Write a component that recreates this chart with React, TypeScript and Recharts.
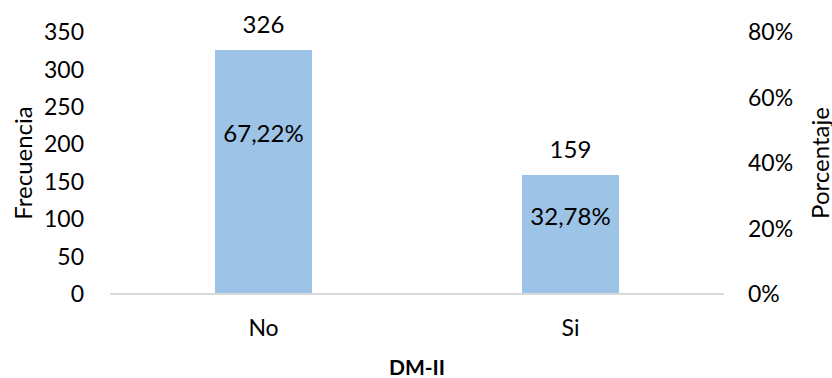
import { ComposedChart, Bar, Line, XAxis, YAxis, LabelList } from 'recharts'

const categorias = ['No', 'Si']
const frecuencias = [326, 159]
const porcentajes = [67.22, 32.78]
const ticksFrecuencia = [0, 50, 100, 150, 200, 250, 300, 350]
const ticksPorcentaje = [0, 20, 40, 60, 80]

const data = categorias.map((c, i) => ({
  name: c,
  frecuencia: frecuencias[i],
  pct: porcentajes[i],
}))

const FONT = 'Lato, "Open Sans", sans-serif'
const FS = 23
const LFS = 24
const tickStyle = { fill: '#000', fontSize: FS, fontFamily: FONT }

const pctLabel = (props: any) => {
  const { x, y, width, height, value } = props
  return (
    <text
      x={x + width / 2}
      y={y + height * 0.34}
      textAnchor='middle'
      dominantBaseline='central'
      fill='#000'
      fontSize={LFS}
      fontFamily={FONT}
    >
      {Number(value).toFixed(2).replace('.', ',')}%
    </text>
  )
}

const topLabel = (props: any) => {
  const { x, y, width, value } = props
  return (
    <text
      x={x + width / 2}
      y={y - 26}
      textAnchor='middle'
      dominantBaseline='central'
      fill='#000'
      fontSize={LFS}
      fontFamily={FONT}
    >
      {value}
    </text>
  )
}

export default function App() {
  return (
    <div style={{ position: 'absolute', left: 0, top: 0, background: '#fff' }}>
      <ComposedChart
        width={832}
        height={378}
        data={data}
        margin={{ top: 32, right: 0, bottom: 0, left: 0 }}
        barSize={97}
      >
        <XAxis
          dataKey='name'
          height={84}
          axisLine={{ stroke: '#d9d9d9', strokeWidth: 2 }}
          tickLine={false}
          tickSize={0}
          tickMargin={26}
          tick={tickStyle}
          label={{
            content: (p: any) => (
              <text
                x={p.viewBox.x + p.viewBox.width / 2}
                y={366}
                textAnchor='middle'
                dominantBaseline='central'
                fontWeight='bold'
                fontSize={21}
                fontFamily={FONT}
                fill='#000'
              >
                DM-II
              </text>
            ),
          }}
        />
        <YAxis
          yAxisId='left'
          width={110}
          domain={[0, 350]}
          ticks={ticksFrecuencia}
          axisLine={false}
          tickLine={false}
          tickSize={0}
          tickMargin={26}
          tick={tickStyle}
          label={{
            content: () => (
              <text
                x={22}
                y={163}
                textAnchor='middle'
                dominantBaseline='central'
                transform='rotate(-90 22 163)'
                fontSize={LFS}
                fontFamily={FONT}
                fill='#000'
              >
                Frecuencia
              </text>
            ),
          }}
        />
        <YAxis
          yAxisId='right'
          orientation='right'
          width={108}
          domain={[0, 80]}
          ticks={ticksPorcentaje}
          tickFormatter={(v: number) => `${v}%`}
          axisLine={false}
          tickLine={false}
          tickSize={0}
          tickMargin={24}
          tick={tickStyle}
          label={{
            content: () => (
              <text
                x={819}
                y={163}
                textAnchor='middle'
                dominantBaseline='central'
                transform='rotate(-90 819 163)'
                fontSize={LFS}
                fontFamily={FONT}
                fill='#000'
              >
                Porcentaje
              </text>
            ),
          }}
        />
        <Bar
          yAxisId='left'
          dataKey='frecuencia'
          fill='#9dc3e6'
          isAnimationActive={false}
        >
          <LabelList dataKey='frecuencia' content={topLabel} />
          <LabelList dataKey='pct' content={pctLabel} />
        </Bar>
        <Line
          yAxisId='right'
          dataKey='pct'
          stroke='none'
          dot={false}
          activeDot={false}
          legendType='none'
          isAnimationActive={false}
        />
      </ComposedChart>
    </div>
  )
}
